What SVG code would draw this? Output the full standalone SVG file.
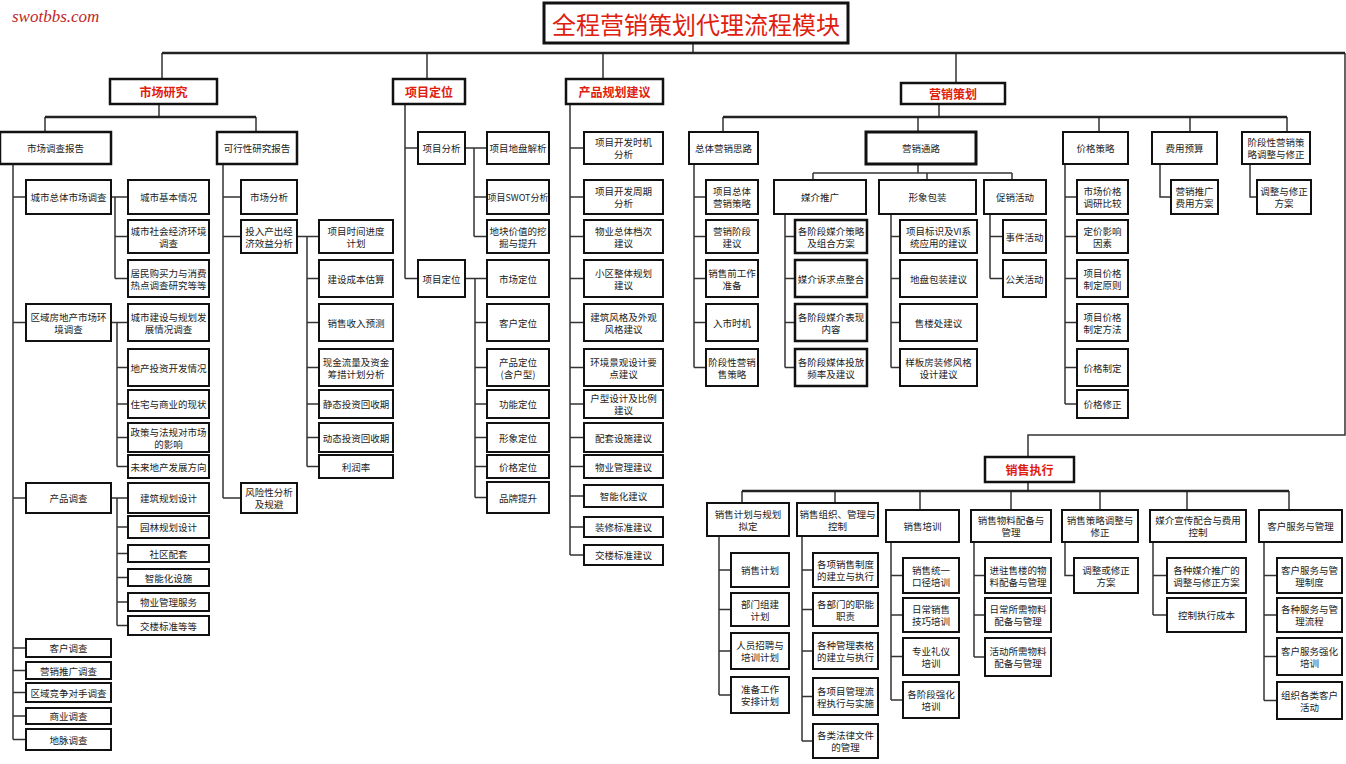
<svg xmlns="http://www.w3.org/2000/svg" width="1346" height="764" viewBox="0 0 1346 764">
<style>
.b{fill:#fff;stroke:#111;stroke-width:2}
.B{fill:#fff;stroke:#111;stroke-width:2.5}
.t{font-family:"Noto Sans CJK SC","Liberation Sans",sans-serif;font-size:9.5px;fill:#222;text-anchor:middle;dominant-baseline:central}
.h{font-family:"Noto Sans CJK SC","Liberation Sans",sans-serif;font-size:12px;font-weight:bold;fill:#e0200f;text-anchor:middle;dominant-baseline:central}
.c{fill:none;stroke:#333;stroke-width:1.5}
.k{fill:none;stroke:#222;stroke-width:2.5}
</style>
<rect width="1346" height="764" fill="#fff"/>
<text x="12" y="22" font-family="Liberation Serif,serif" font-style="italic" font-size="17" fill="#c0282a">swotbbs.com</text>
<g id="connectors">
<path class="c" d="M693,43V53M162,53V79M427,53V79M603,53V79M956,53V83M1345,53V435H1028V457"/>
<path class="k" d="M162,53H1345"/>
<path class="c" d="M159,104V117M45,117V132M256,117V132"/>
<path class="k" d="M45,117H256"/>
<path class="c" d="M13,164V739.5M13,197H26M13,322.5H26M13,498H26M13,648H26M13,670.5H26M13,692.5H26M13,716H26M13,739.5H26"/>
<path class="c" d="M111,197H128M115,197V278.5M115,236.5H128M115,278.5H128"/>
<path class="c" d="M111,322.5H128M117,322.5V466.5M117,367.5H128M117,404H128M117,437.5H128M117,466.5H128"/>
<path class="c" d="M111,498H128M117,498V625.5M117,527H128M117,553.5H128M117,577.5H128M117,602H128M117,625.5H128"/>
<path class="c" d="M223,164V498M223,197H241M223,236.5H241M223,498H241"/>
<path class="c" d="M297,236.5H319M307,236.5V466.5M307,278.5H319M307,322.5H319M307,367.5H319M307,404H319M307,437.5H319M307,466.5H319"/>
<path class="c" d="M405,104V278.5M405,148H418M405,278.5H418"/>
<path class="c" d="M465,148H487M474,148V236.5M474,197H487M474,236.5H487"/>
<path class="c" d="M465,278.5H487M475,278.5V497.5M475,322.5H487M475,367.5H487M475,404H487M475,437.5H487M475,466.5H487M475,497.5H487"/>
<path class="c" d="M570,104V555M570,148H584M570,197H584M570,236.5H584M570,278.5H584M570,322.5H584M570,367.5H584M570,404H584M570,437.5H584M570,466.5H584M570,496H584M570,527H584M570,555H584"/>
<path class="c" d="M939,104V117M723,117V132M918,117V132M1099,117V132M1190,117V132M1287,117V132"/>
<path class="k" d="M723,117H1287"/>
<path class="c" d="M694,164V367.5M694,197H706M694,236.5H706M694,278.5H706M694,322.5H706M694,367.5H706"/>
<path class="c" d="M918,164V173M813,173H1012M813,173V180M927,173V180M1012,173V180"/>
<path class="c" d="M785,214V367.5M785,236.5H795M785,278.5H795M785,322.5H795M785,367.5H795"/>
<path class="c" d="M891,214V367.5M891,236.5H900M891,278.5H900M891,322.5H900M891,367.5H900"/>
<path class="c" d="M990,214V278.5M990,236.5H1003M990,278.5H1003"/>
<path class="c" d="M1065,164V404M1065,197H1077M1065,236.5H1077M1065,278.5H1077M1065,322.5H1077M1065,367.5H1077M1065,404H1077"/>
<path class="c" d="M1160,164V197H1171M1250,164V197H1257"/>
<path class="c" d="M1028,482V491M742,491V503M835,491V503M920,491V510M1011,491V510M1100,491V510M1187,491V510M1289,491V510"/>
<path class="k" d="M742,491H1289"/>
<path class="c" d="M719,536V695M719,570H731M719,609.5H731M719,651H731M719,695H731"/>
<path class="c" d="M802,536V741M802,570H813M802,609.5H813M802,651H813M802,696.5H813M802,741H813"/>
<path class="c" d="M891,542V700M891,575.5H903M891,615H903M891,656.5H903M891,700H903"/>
<path class="c" d="M974,542V657M974,575.5H985M974,615H985M974,657H985"/>
<path class="c" d="M1065,542V575.5H1074"/>
<path class="c" d="M1153,542V615M1153,575.5H1167M1153,615H1167"/>
<path class="c" d="M1264,542V700.5M1264,575.5H1277M1264,615H1277M1264,656.5H1277M1264,700.5H1277"/>
</g>
<g id="title"><rect x="544" y="3" width="304" height="40" fill="#fff" stroke="#111" stroke-width="3"/><text x="696" y="23" font-family="Noto Sans CJK SC,sans-serif" font-size="24" fill="#e0200f" text-anchor="middle" dominant-baseline="central">全程营销策划代理流程模块</text></g>
<g id="n-mr"><rect class="B" x="110" y="79" width="107" height="25"/><text class="h" x="163.5" y="91.5">市场研究</text></g>
<g id="n-xd"><rect class="B" x="393" y="79" width="72" height="25"/><text class="h" x="429" y="91.5">项目定位</text></g>
<g id="n-cp"><rect class="B" x="566" y="79" width="97" height="25"/><text class="h" x="614.5" y="91.5">产品规划建议</text></g>
<g id="n-yx"><rect class="B" x="901" y="83" width="104" height="21"/><text class="h" x="953" y="93.5">营销策划</text></g>
<g id="n-xs"><rect class="B" x="985" y="457" width="89" height="25"/><text class="h" x="1029.5" y="469.5">销售执行</text></g>
<g id="n-scdc"><rect class="B" x="0" y="132" width="111" height="32"/><text class="t" x="55.5" y="148">市场调查报告</text></g>
<g id="n-kxx"><rect class="B" x="217" y="132" width="80" height="32"/><text class="t" x="257" y="148">可行性研究报告</text></g>
<g id="n-c1"><rect class="b" x="26" y="180" width="85" height="34"/><text class="t" x="68.5" y="197">城市总体市场调查</text></g>
<g id="n-c2"><rect class="b" x="26" y="304" width="85" height="37"/><text class="t" x="68.5" y="316.5">区域房地产市场环</text><text class="t" x="68.5" y="328.5">境调查</text></g>
<g id="n-c3"><rect class="b" x="26" y="483" width="85" height="30"/><text class="t" x="68.5" y="498">产品调查</text></g>
<g id="n-c4"><rect class="b" x="26" y="639" width="85" height="18"/><text class="t" x="68.5" y="648">客户调查</text></g>
<g id="n-c5"><rect class="b" x="26" y="662" width="85" height="17"/><text class="t" x="68.5" y="670.5">营销推广调查</text></g>
<g id="n-c6"><rect class="b" x="26" y="683" width="85" height="19"/><text class="t" x="68.5" y="692.5">区域竞争对手调查</text></g>
<g id="n-c7"><rect class="b" x="26" y="708" width="85" height="16"/><text class="t" x="68.5" y="716">商业调查</text></g>
<g id="n-c8"><rect class="b" x="26" y="729" width="85" height="21"/><text class="t" x="68.5" y="739.5">地脉调查</text></g>
<g id="n-c11"><rect class="b" x="128" y="180" width="81" height="34"/><text class="t" x="168.5" y="197">城市基本情况</text></g>
<g id="n-c12"><rect class="b" x="128" y="220" width="81" height="33"/><text class="t" x="168.5" y="230.5">城市社会经济环境</text><text class="t" x="168.5" y="242.5">调查</text></g>
<g id="n-c13"><rect class="b" x="128" y="260" width="81" height="37"/><text class="t" x="168.5" y="272.5">居民购买力与消费</text><text class="t" x="168.5" y="284.5">热点调查研究等等</text></g>
<g id="n-c21"><rect class="b" x="128" y="304" width="81" height="37"/><text class="t" x="168.5" y="316.5">城市建设与规划发</text><text class="t" x="168.5" y="328.5">展情况调查</text></g>
<g id="n-c22"><rect class="b" x="128" y="349" width="81" height="37"/><text class="t" x="168.5" y="367.5">地产投资开发情况</text></g>
<g id="n-c23"><rect class="b" x="128" y="390" width="81" height="28"/><text class="t" x="168.5" y="404">住宅与商业的现状</text></g>
<g id="n-c24"><rect class="b" x="128" y="423" width="81" height="29"/><text class="t" x="168.5" y="431.5">政策与法规对市场</text><text class="t" x="168.5" y="443.5">的影响</text></g>
<g id="n-c25"><rect class="b" x="128" y="455" width="81" height="23"/><text class="t" x="168.5" y="466.5">未来地产发展方向</text></g>
<g id="n-c31"><rect class="b" x="128" y="483" width="81" height="30"/><text class="t" x="168.5" y="498">建筑规划设计</text></g>
<g id="n-c32"><rect class="b" x="128" y="516" width="81" height="22"/><text class="t" x="168.5" y="527">园林规划设计</text></g>
<g id="n-c33"><rect class="b" x="128" y="545" width="81" height="17"/><text class="t" x="168.5" y="553.5">社区配套</text></g>
<g id="n-c34"><rect class="b" x="128" y="569" width="81" height="17"/><text class="t" x="168.5" y="577.5">智能化设施</text></g>
<g id="n-c35"><rect class="b" x="128" y="593" width="81" height="18"/><text class="t" x="168.5" y="602">物业管理服务</text></g>
<g id="n-c36"><rect class="b" x="128" y="616" width="81" height="19"/><text class="t" x="168.5" y="625.5">交楼标准等等</text></g>
<g id="n-k1"><rect class="b" x="241" y="180" width="56" height="34"/><text class="t" x="269" y="197">市场分析</text></g>
<g id="n-k2"><rect class="b" x="241" y="220" width="56" height="33"/><text class="t" x="269" y="230.5">投入产出经</text><text class="t" x="269" y="242.5">济效益分析</text></g>
<g id="n-k3"><rect class="b" x="241" y="483" width="56" height="30"/><text class="t" x="269" y="492">风险性分析</text><text class="t" x="269" y="504">及规避</text></g>
<g id="n-k21"><rect class="b" x="319" y="220" width="74" height="33"/><text class="t" x="356" y="230.5">项目时间进度</text><text class="t" x="356" y="242.5">计划</text></g>
<g id="n-k22"><rect class="b" x="319" y="260" width="74" height="37"/><text class="t" x="356" y="278.5">建设成本估算</text></g>
<g id="n-k23"><rect class="b" x="319" y="304" width="74" height="37"/><text class="t" x="356" y="322.5">销售收入预测</text></g>
<g id="n-k24"><rect class="b" x="319" y="349" width="74" height="37"/><text class="t" x="356" y="361.5">现金流量及资金</text><text class="t" x="356" y="373.5">筹措计划分析</text></g>
<g id="n-k25"><rect class="b" x="319" y="390" width="74" height="28"/><text class="t" x="356" y="404">静态投资回收期</text></g>
<g id="n-k26"><rect class="b" x="319" y="423" width="74" height="29"/><text class="t" x="356" y="437.5">动态投资回收期</text></g>
<g id="n-k27"><rect class="b" x="319" y="455" width="74" height="23"/><text class="t" x="356" y="466.5">利润率</text></g>
<g id="n-x1"><rect class="b" x="418" y="132" width="47" height="32"/><text class="t" x="441.5" y="148">项目分析</text></g>
<g id="n-x2"><rect class="b" x="418" y="260" width="47" height="37"/><text class="t" x="441.5" y="278.5">项目定位</text></g>
<g id="n-x11"><rect class="b" x="487" y="132" width="62" height="32"/><text class="t" x="518" y="148">项目地盘解析</text></g>
<g id="n-x12"><rect class="b" x="487" y="180" width="62" height="34"/><text class="t" x="518" y="197" style="font-size:9px">项目SWOT分析</text></g>
<g id="n-x13"><rect class="b" x="487" y="220" width="62" height="33"/><text class="t" x="518" y="230.5">地块价值的挖</text><text class="t" x="518" y="242.5">掘与提升</text></g>
<g id="n-x21"><rect class="b" x="487" y="260" width="62" height="37"/><text class="t" x="518" y="278.5">市场定位</text></g>
<g id="n-x22"><rect class="b" x="487" y="304" width="62" height="37"/><text class="t" x="518" y="322.5">客户定位</text></g>
<g id="n-x23"><rect class="b" x="487" y="349" width="62" height="37"/><text class="t" x="518" y="361.5">产品定位</text><text class="t" x="518" y="373.5">(含户型)</text></g>
<g id="n-x24"><rect class="b" x="487" y="390" width="62" height="28"/><text class="t" x="518" y="404">功能定位</text></g>
<g id="n-x25"><rect class="b" x="487" y="423" width="62" height="29"/><text class="t" x="518" y="437.5">形象定位</text></g>
<g id="n-x26"><rect class="b" x="487" y="455" width="62" height="23"/><text class="t" x="518" y="466.5">价格定位</text></g>
<g id="n-x27"><rect class="b" x="487" y="482" width="62" height="31"/><text class="t" x="518" y="497.5">品牌提升</text></g>
<g id="n-p1"><rect class="b" x="584" y="132" width="79" height="32"/><text class="t" x="623.5" y="142">项目开发时机</text><text class="t" x="623.5" y="154">分析</text></g>
<g id="n-p2"><rect class="b" x="584" y="180" width="79" height="34"/><text class="t" x="623.5" y="191">项目开发周期</text><text class="t" x="623.5" y="203">分析</text></g>
<g id="n-p3"><rect class="b" x="584" y="220" width="79" height="33"/><text class="t" x="623.5" y="230.5">物业总体档次</text><text class="t" x="623.5" y="242.5">建议</text></g>
<g id="n-p4"><rect class="b" x="584" y="260" width="79" height="37"/><text class="t" x="623.5" y="272.5">小区整体规划</text><text class="t" x="623.5" y="284.5">建议</text></g>
<g id="n-p5"><rect class="b" x="584" y="304" width="79" height="37"/><text class="t" x="623.5" y="316.5">建筑风格及外观</text><text class="t" x="623.5" y="328.5">风格建议</text></g>
<g id="n-p6"><rect class="b" x="584" y="349" width="79" height="37"/><text class="t" x="623.5" y="361.5">环境景观设计要</text><text class="t" x="623.5" y="373.5">点建议</text></g>
<g id="n-p7"><rect class="b" x="584" y="390" width="79" height="28"/><text class="t" x="623.5" y="398">户型设计及比例</text><text class="t" x="623.5" y="410">建议</text></g>
<g id="n-p8"><rect class="b" x="584" y="423" width="79" height="29"/><text class="t" x="623.5" y="437.5">配套设施建议</text></g>
<g id="n-p9"><rect class="b" x="584" y="455" width="79" height="23"/><text class="t" x="623.5" y="466.5">物业管理建议</text></g>
<g id="n-p10"><rect class="b" x="584" y="485" width="79" height="22"/><text class="t" x="623.5" y="496">智能化建议</text></g>
<g id="n-p11"><rect class="b" x="584" y="517" width="79" height="20"/><text class="t" x="623.5" y="527">装修标准建议</text></g>
<g id="n-p12"><rect class="b" x="584" y="545" width="79" height="20"/><text class="t" x="623.5" y="555">交楼标准建议</text></g>
<g id="n-y1"><rect class="b" x="689" y="132" width="69" height="32"/><text class="t" x="723.5" y="148">总体营销思路</text></g>
<g id="n-y2"><rect class="b" x="866" y="132" width="110" height="32" style="stroke-width:3"/><text class="t" x="921" y="148">营销通路</text></g>
<g id="n-y3"><rect class="b" x="1063" y="132" width="65" height="32"/><text class="t" x="1095.5" y="148">价格策略</text></g>
<g id="n-y4"><rect class="b" x="1152" y="132" width="65" height="32"/><text class="t" x="1184.5" y="148">费用预算</text></g>
<g id="n-y5"><rect class="b" x="1242" y="132" width="68" height="32"/><text class="t" x="1276" y="142">阶段性营销策</text><text class="t" x="1276" y="154">略调整与修正</text></g>
<g id="n-y11"><rect class="b" x="706" y="180" width="52" height="34"/><text class="t" x="732" y="191">项目总体</text><text class="t" x="732" y="203">营销策略</text></g>
<g id="n-y12"><rect class="b" x="706" y="220" width="52" height="33"/><text class="t" x="732" y="230.5">营销阶段</text><text class="t" x="732" y="242.5">建议</text></g>
<g id="n-y13"><rect class="b" x="706" y="260" width="52" height="37"/><text class="t" x="732" y="272.5">销售前工作</text><text class="t" x="732" y="284.5">准备</text></g>
<g id="n-y14"><rect class="b" x="706" y="304" width="52" height="37"/><text class="t" x="732" y="322.5">入市时机</text></g>
<g id="n-y15"><rect class="b" x="706" y="349" width="52" height="37"/><text class="t" x="732" y="361.5">阶段性营销</text><text class="t" x="732" y="373.5">售策略</text></g>
<g id="n-m1"><rect class="b" x="774" y="180" width="92" height="34"/><text class="t" x="820" y="197">媒介推广</text></g>
<g id="n-m2"><rect class="b" x="879" y="180" width="97" height="34"/><text class="t" x="927.5" y="197">形象包装</text></g>
<g id="n-m3"><rect class="b" x="984" y="180" width="62" height="34"/><text class="t" x="1015" y="197">促销活动</text></g>
<g id="n-m11"><rect class="B" x="795" y="220" width="72" height="33"/><text class="t" x="831" y="230.5">各阶段媒介策略</text><text class="t" x="831" y="242.5">及组合方案</text></g>
<g id="n-m12"><rect class="B" x="795" y="260" width="72" height="37"/><text class="t" x="831" y="278.5">媒介诉求点整合</text></g>
<g id="n-m13"><rect class="B" x="795" y="304" width="72" height="37"/><text class="t" x="831" y="316.5">各阶段媒介表现</text><text class="t" x="831" y="328.5">内容</text></g>
<g id="n-m14"><rect class="B" x="795" y="349" width="72" height="37"/><text class="t" x="831" y="361.5">各阶段媒体投放</text><text class="t" x="831" y="373.5">频率及建议</text></g>
<g id="n-m21"><rect class="b" x="900" y="220" width="77" height="33"/><text class="t" x="938.5" y="230.5">项目标识及VI系</text><text class="t" x="938.5" y="242.5">统应用的建议</text></g>
<g id="n-m22"><rect class="b" x="900" y="260" width="77" height="37"/><text class="t" x="938.5" y="278.5">地盘包装建议</text></g>
<g id="n-m23"><rect class="b" x="900" y="304" width="77" height="37"/><text class="t" x="938.5" y="322.5">售楼处建议</text></g>
<g id="n-m24"><rect class="b" x="900" y="349" width="77" height="37"/><text class="t" x="938.5" y="361.5">样板房装修风格</text><text class="t" x="938.5" y="373.5">设计建议</text></g>
<g id="n-m31"><rect class="b" x="1003" y="220" width="43" height="33"/><text class="t" x="1024.5" y="236.5">事件活动</text></g>
<g id="n-m32"><rect class="b" x="1003" y="260" width="43" height="37"/><text class="t" x="1024.5" y="278.5">公关活动</text></g>
<g id="n-j1"><rect class="b" x="1077" y="180" width="51" height="34"/><text class="t" x="1102.5" y="191">市场价格</text><text class="t" x="1102.5" y="203">调研比较</text></g>
<g id="n-j2"><rect class="b" x="1077" y="220" width="51" height="33"/><text class="t" x="1102.5" y="230.5">定价影响</text><text class="t" x="1102.5" y="242.5">因素</text></g>
<g id="n-j3"><rect class="b" x="1077" y="260" width="51" height="37"/><text class="t" x="1102.5" y="272.5">项目价格</text><text class="t" x="1102.5" y="284.5">制定原则</text></g>
<g id="n-j4"><rect class="b" x="1077" y="304" width="51" height="37"/><text class="t" x="1102.5" y="316.5">项目价格</text><text class="t" x="1102.5" y="328.5">制定方法</text></g>
<g id="n-j5"><rect class="b" x="1077" y="349" width="51" height="37"/><text class="t" x="1102.5" y="367.5">价格制定</text></g>
<g id="n-j6"><rect class="b" x="1077" y="390" width="51" height="28"/><text class="t" x="1102.5" y="404">价格修正</text></g>
<g id="n-f1"><rect class="b" x="1171" y="180" width="47" height="34"/><text class="t" x="1194.5" y="191">营销推广</text><text class="t" x="1194.5" y="203">费用方案</text></g>
<g id="n-g1"><rect class="b" x="1257" y="180" width="54" height="34"/><text class="t" x="1284" y="191">调整与修正</text><text class="t" x="1284" y="203">方案</text></g>
<g id="n-s1"><rect class="b" x="707" y="503" width="82" height="33"/><text class="t" x="748" y="513.5">销售计划与规划</text><text class="t" x="748" y="525.5">拟定</text></g>
<g id="n-s2"><rect class="b" x="797" y="503" width="81" height="33"/><text class="t" x="837.5" y="513.5">销售组织、管理与</text><text class="t" x="837.5" y="525.5">控制</text></g>
<g id="n-s3"><rect class="b" x="886" y="510" width="73" height="32"/><text class="t" x="922.5" y="526">销售培训</text></g>
<g id="n-s4"><rect class="b" x="971" y="510" width="80" height="32"/><text class="t" x="1011" y="520">销售物料配备与</text><text class="t" x="1011" y="532">管理</text></g>
<g id="n-s5"><rect class="b" x="1062" y="510" width="76" height="32"/><text class="t" x="1100" y="520">销售策略调整与</text><text class="t" x="1100" y="532">修正</text></g>
<g id="n-s6"><rect class="b" x="1150" y="510" width="96" height="32"/><text class="t" x="1198" y="520">媒介宣传配合与费用</text><text class="t" x="1198" y="532">控制</text></g>
<g id="n-s7"><rect class="b" x="1259" y="510" width="83" height="32"/><text class="t" x="1300.5" y="526">客户服务与管理</text></g>
<g id="n-s11"><rect class="b" x="731" y="553" width="58" height="34"/><text class="t" x="760" y="570">销售计划</text></g>
<g id="n-s12"><rect class="b" x="731" y="593" width="58" height="33"/><text class="t" x="760" y="603.5">部门组建</text><text class="t" x="760" y="615.5">计划</text></g>
<g id="n-s13"><rect class="b" x="731" y="633" width="58" height="36"/><text class="t" x="760" y="645">人员招聘与</text><text class="t" x="760" y="657">培训计划</text></g>
<g id="n-s14"><rect class="b" x="731" y="677" width="58" height="36"/><text class="t" x="760" y="689">准备工作</text><text class="t" x="760" y="701">安排计划</text></g>
<g id="n-s21"><rect class="b" x="813" y="553" width="65" height="34"/><text class="t" x="845.5" y="564">各项销售制度</text><text class="t" x="845.5" y="576">的建立与执行</text></g>
<g id="n-s22"><rect class="b" x="813" y="593" width="65" height="33"/><text class="t" x="845.5" y="603.5">各部门的职能</text><text class="t" x="845.5" y="615.5">职责</text></g>
<g id="n-s23"><rect class="b" x="813" y="633" width="65" height="36"/><text class="t" x="845.5" y="645">各种管理表格</text><text class="t" x="845.5" y="657">的建立与执行</text></g>
<g id="n-s24"><rect class="b" x="813" y="678" width="65" height="37"/><text class="t" x="845.5" y="690.5">各项目管理流</text><text class="t" x="845.5" y="702.5">程执行与实施</text></g>
<g id="n-s25"><rect class="b" x="813" y="724" width="65" height="34"/><text class="t" x="845.5" y="735">各类法律文件</text><text class="t" x="845.5" y="747">的管理</text></g>
<g id="n-s31"><rect class="b" x="903" y="558" width="56" height="35"/><text class="t" x="931" y="569.5">销售统一</text><text class="t" x="931" y="581.5">口径培训</text></g>
<g id="n-s32"><rect class="b" x="903" y="598" width="56" height="34"/><text class="t" x="931" y="609">日常销售</text><text class="t" x="931" y="621">技巧培训</text></g>
<g id="n-s33"><rect class="b" x="903" y="638" width="56" height="37"/><text class="t" x="931" y="650.5">专业礼仪</text><text class="t" x="931" y="662.5">培训</text></g>
<g id="n-s34"><rect class="b" x="903" y="682" width="56" height="36"/><text class="t" x="931" y="694">各阶段强化</text><text class="t" x="931" y="706">培训</text></g>
<g id="n-s41"><rect class="b" x="985" y="558" width="66" height="35"/><text class="t" x="1018" y="569.5">进驻售楼的物</text><text class="t" x="1018" y="581.5">料配备与管理</text></g>
<g id="n-s42"><rect class="b" x="985" y="598" width="66" height="34"/><text class="t" x="1018" y="609">日常所需物料</text><text class="t" x="1018" y="621">配备与管理</text></g>
<g id="n-s43"><rect class="b" x="985" y="638" width="66" height="38"/><text class="t" x="1018" y="651">活动所需物料</text><text class="t" x="1018" y="663">配备与管理</text></g>
<g id="n-s51"><rect class="b" x="1074" y="558" width="64" height="35"/><text class="t" x="1106" y="569.5">调整或修正</text><text class="t" x="1106" y="581.5">方案</text></g>
<g id="n-s61"><rect class="b" x="1167" y="558" width="79" height="35"/><text class="t" x="1206.5" y="569.5">各种媒介推广的</text><text class="t" x="1206.5" y="581.5">调整与修正方案</text></g>
<g id="n-s62"><rect class="b" x="1167" y="598" width="79" height="34"/><text class="t" x="1206.5" y="615">控制执行成本</text></g>
<g id="n-s71"><rect class="b" x="1277" y="558" width="65" height="35"/><text class="t" x="1309.5" y="569.5">客户服务与管</text><text class="t" x="1309.5" y="581.5">理制度</text></g>
<g id="n-s72"><rect class="b" x="1277" y="598" width="65" height="34"/><text class="t" x="1309.5" y="609">各种服务与管</text><text class="t" x="1309.5" y="621">理流程</text></g>
<g id="n-s73"><rect class="b" x="1277" y="638" width="65" height="37"/><text class="t" x="1309.5" y="650.5">客户服务强化</text><text class="t" x="1309.5" y="662.5">培训</text></g>
<g id="n-s74"><rect class="b" x="1277" y="682" width="65" height="37"/><text class="t" x="1309.5" y="694.5">组织各类客户</text><text class="t" x="1309.5" y="706.5">活动</text></g>
</svg>
